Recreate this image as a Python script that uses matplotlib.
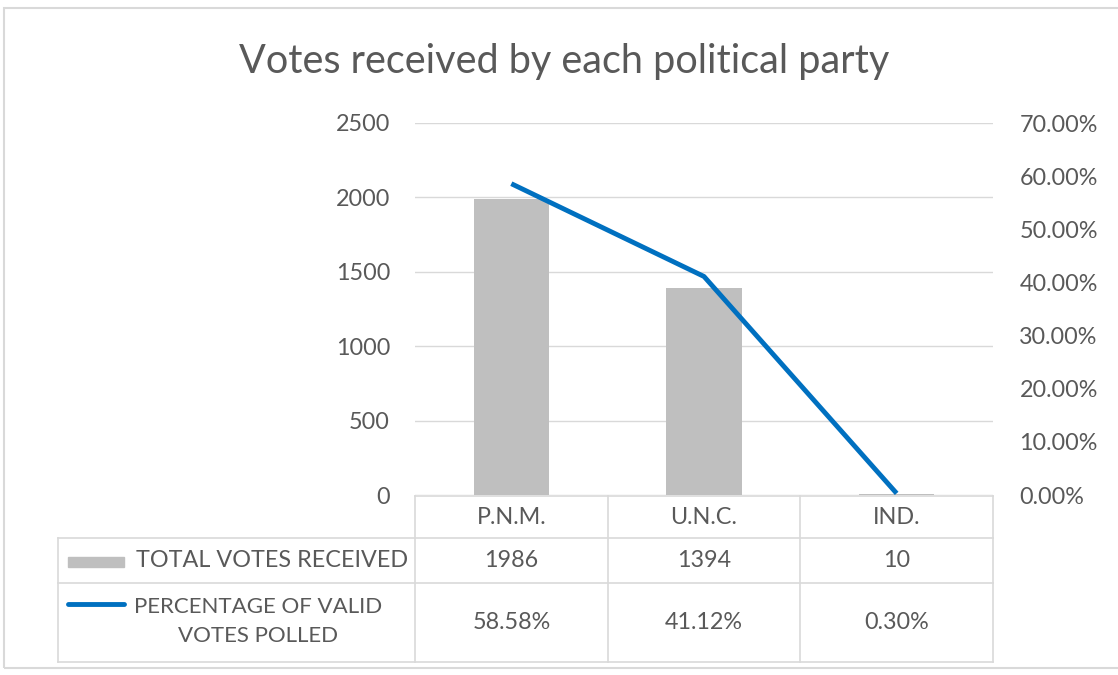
import matplotlib
matplotlib.use("Agg")
import matplotlib.pyplot as plt
from matplotlib.lines import Line2D
from matplotlib.patches import Rectangle

categories = ["P.N.M.", "U.N.C.", "IND."]
total_votes = [1986, 1394, 10]
pct_valid = [58.58, 41.12, 0.30]
series_names = ["TOTAL VOTES RECEIVED", "PERCENTAGE OF VALID\nVOTES POLLED"]
left_ticks = [0, 500, 1000, 1500, 2000, 2500]
right_ticks = [0, 10, 20, 30, 40, 50, 60, 70]

FONT = ["Lato", "DejaVu Sans"]
plt.rcParams['font.family'] = FONT
TXT = "#595959"
GRID = "#d9d9d9"
BAR = "#bfbfbf"
LINE = "#0070c0"
FS = 16.8

W, H = 1118, 675
fig = plt.figure(figsize=(W/100, H/100), dpi=100)

def fx(x): return x / W
def fy(y): return 1 - y / H

# chart border
fig.add_artist(Rectangle((fx(4), fy(668)), fx(1140) - fx(4), fy(8) - fy(668),
                         transform=fig.transFigure, fill=False, edgecolor=GRID, lw=1.5))

L, R, T, B = 415, 993, 123, 495
ax = fig.add_axes([fx(L), fy(B), fx(R) - fx(L), fy(T) - fy(B)])
x = list(range(len(categories)))
ax.bar(x, total_votes, width=0.39, color=BAR, zorder=2)
ax.set_xlim(-0.5, len(categories) - 0.5)
ax.set_ylim(0, 2500)
ax.set_yticks(left_ticks)
ax.set_yticklabels([str(v) for v in left_ticks])
ax.tick_params(axis='y', length=0, pad=18, labelsize=FS, labelcolor=TXT)
ax.set_xticks([])
for s in ax.spines.values():
    s.set_visible(False)
ax.grid(axis='y', color=GRID, lw=1, zorder=0)
ax.set_axisbelow(True)

ax2 = ax.twinx()
ax2.plot(x, pct_valid, color=LINE, lw=3.5, solid_capstyle='butt', zorder=3)
ax2.set_ylim(0, 70)
ax2.set_yticks(right_ticks)
ax2.set_yticklabels([f"{v:.2f}%" for v in right_ticks])
ax2.tick_params(axis='y', length=0, pad=19, labelsize=FS, labelcolor=TXT)
for s in ax2.spines.values():
    s.set_visible(False)

fig.text(fx(564), fy(62), "Votes received by each political party", ha='center', va='center',
         fontsize=28.5, color=TXT)

# data table
cols = [L, 608, 800, R]
rows = [496, 538, 583, 662]
tl = 58

def hline(x0, x1, y):
    fig.add_artist(Line2D([fx(x0), fx(x1)], [fy(y), fy(y)], color=GRID, lw=1.2,
                          transform=fig.transFigure))

def vline(x, y0, y1):
    fig.add_artist(Line2D([fx(x), fx(x)], [fy(y0), fy(y1)], color=GRID, lw=1.2,
                          transform=fig.transFigure))

hline(L, R, rows[0])
for y in rows[1:]:
    hline(tl, R, y)
vline(tl, rows[1], rows[3])
for c in cols:
    vline(c, rows[0], rows[3])

for i, cat in enumerate(categories):
    cx = (cols[i] + cols[i + 1]) / 2
    fig.text(fx(cx), fy((rows[0] + rows[1]) / 2), cat, ha='center', va='center',
             fontsize=FS, color=TXT)
    fig.text(fx(cx), fy((rows[1] + rows[2]) / 2), str(total_votes[i]), ha='center',
             va='center', fontsize=FS, color=TXT)
    fig.text(fx(cx), fy((rows[2] + rows[3]) / 2), f"{pct_valid[i]:.2f}%", ha='center',
             va='center', fontsize=FS, color=TXT)

# series labels with legend keys
fig.text(fx(408), fy((rows[1] + rows[2]) / 2), series_names[0], ha='right', va='center',
         fontsize=FS, color=TXT)
fig.add_artist(Rectangle((fx(68), fy(567)), fx(124) - fx(68), fy(557) - fy(567),
                         transform=fig.transFigure, color=BAR))
fig.text(fx(134), fy((rows[2] + rows[3]) / 2 - 1), series_names[1], ha='left', va='center',
         multialignment='center', fontsize=16, color=TXT, linespacing=1.55)
fig.add_artist(Line2D([fx(68), fx(124)], [fy(604), fy(604)], color=LINE, lw=3.5,
                      transform=fig.transFigure, solid_capstyle='round'))

fig.savefig("out.png", dpi=100)
